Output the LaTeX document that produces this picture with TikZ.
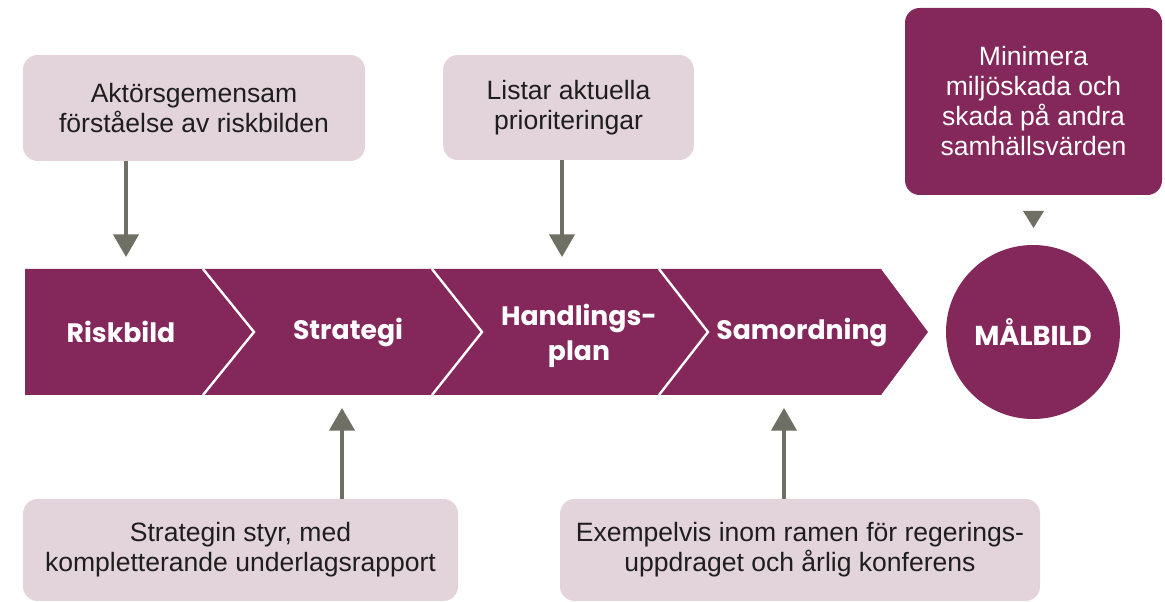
\documentclass[tikz,border=0pt]{standalone}
\usepackage{fontspec}
\setmainfont{Liberation Sans}
\newfontfamily\chevfont{Poppins}
\usetikzlibrary{arrows.meta,calc}
\definecolor{plum}{HTML}{84275A}
\definecolor{lightplum}{HTML}{E3D3DA}
\definecolor{arrgray}{HTML}{6F6F66}
\definecolor{txtdark}{HTML}{1E1E1E}
\tikzset{
  infobox/.style={fill=lightplum, rounded corners=11pt, align=center, text=txtdark,
    font=\fontsize{19.9}{22.5}\selectfont, inner sep=0pt},
  goalbox/.style={fill=plum, rounded corners=11pt, align=center, text=white,
    font=\fontsize{19.9}{22.5}\selectfont, inner sep=0pt},
  chevtext/.style={text=white, align=center, font=\chevfont\bfseries\fontsize{20}{26}\selectfont},
  arr/.style={draw=arrgray, line width=2.3pt, -{Triangle[width=19pt,length=17pt]}},
  sepline/.style={draw=white, line width=1.8pt},
}
\begin{document}
\begin{tikzpicture}[x=0.75pt,y=-0.75pt]
\useasboundingbox (0,0) rectangle (1165,602);
% chevron band
\fill[plum] (25,269) -- (881,269) -- (928,332) -- (881,395) -- (25,395) -- cycle;
\draw[sepline] (203,269) -- (254,332) -- (203,395);
\draw[sepline] (432,269) -- (482,332) -- (432,395);
\draw[sepline] (659,269) -- (708,332) -- (659,395);
% chevron texts
\node[chevtext] (c1) at (121,332) {Riskbild};
\node[chevtext] (c2) at (348,332) {Strategi};
\node[chevtext] (c3) at (579,336) {Handlings-\\plan};
\node[chevtext] (c4) at (802,332) {Samordning};
% goal circle
\node[circle, fill=plum, minimum size=130.5pt, inner sep=0pt, text=white,
  font=\chevfont\bfseries\fontsize{20.5}{24}\selectfont] (goal) at (1033,332) {MÅLBILD};
% top boxes
\node[infobox, minimum width=256.5pt, minimum height=79.5pt] (t1) at (194,108)
  {Aktörsgemensam\\förståelse av riskbilden};
\node[infobox, minimum width=188pt, minimum height=78.75pt] (t2) at (568.5,107.5)
  {Listar aktuella\\prioriteringar};
\node[goalbox, minimum width=192.75pt, minimum height=140.25pt] (g) at (1033.5,101.5)
  {Minimera\\miljöskada och\\skada på andra\\samhällsvärden};
% bottom boxes
\node[infobox, minimum width=326.25pt, minimum height=76.5pt] (b1) at (240.5,550)
  {Strategin styr, med\\kompletterande underlagsrapport};
\node[infobox, minimum width=360pt, minimum height=76.5pt] (b2) at (800,550)
  {Exempelvis inom ramen för regerings-\\uppdraget och årlig konferens};
% arrow targets
\coordinate (a1) at (126,257);
\coordinate (a2) at (562,257);
\coordinate (a3) at (342,408);
\coordinate (a4) at (784,408);
\draw[arr] (t1.south -| a1) -- (a1);
\draw[arr] (t2.south -| a2) -- (a2);
\draw[arr] (b1.north -| a3) -- (a3);
\draw[arr] (b2.north -| a4) -- (a4);
% small triangle to goal
\fill[arrgray] (1023,211) -- (1044,211) -- (1033.5,228) -- cycle;
\end{tikzpicture}
\end{document}
